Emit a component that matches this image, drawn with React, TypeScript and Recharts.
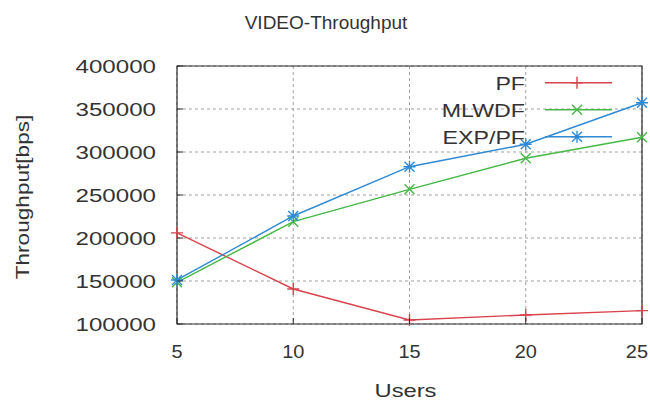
import React from 'react'
import {
  LineChart,
  Line,
  XAxis,
  YAxis,
  CartesianGrid,
  Legend,
  ReferenceArea,
} from 'recharts'

const users = [5, 10, 15, 20, 25]
const pf = [206000, 140700, 104700, 110500, 115500]
const mlwdf = [148500, 219000, 256600, 292700, 317100]
const expPf = [151200, 225600, 282900, 309000, 357300]
const xTicks = [5, 10, 15, 20, 25]
const yTicks = [100000, 150000, 200000, 250000, 300000, 350000, 400000]
const seriesNames = ['PF', 'MLWDF', 'EXP/PF']

const FONT = '"Liberation Sans", Arial, sans-serif'
const INK = '#2a2a2a'
const RED = '#d8434d'
const GREEN = '#45b845'
const BLUE = '#2f8ad6'

const data = users.map((u, i) => ({ users: u, pf: pf[i], mlwdf: mlwdf[i], expPf: expPf[i] }))

// gnuplot font looks stretched horizontally, so scale text on x
function SText({ x, y, anchor = 'middle', size = 19, sx = 1.22, rotate = 0, children }: any) {
  return (
    <g transform={`translate(${x},${y}) rotate(${rotate}) scale(${sx},1)`}>
      <text x={0} y={0} textAnchor={anchor} fontSize={size} fontFamily={FONT} fill="#333">
        {children}
      </text>
    </g>
  )
}

function markPath(kind: string, cx: number, cy: number) {
  const p = `M${cx - 6},${cy}H${cx + 6}M${cx},${cy - 6}V${cy + 6}`
  const x = `M${cx - 5},${cy - 5}L${cx + 5},${cy + 5}M${cx - 5},${cy + 5}L${cx + 5},${cy - 5}`
  if (kind === 'plus') return p
  if (kind === 'cross') return x
  return p + x
}

function Marker({ cx, cy, stroke, kind }: any) {
  if (cx == null || cy == null) return null
  return <path d={markPath(kind, cx, cy)} stroke={stroke} strokeWidth={1.4} fill="none" />
}

function YTick({ x, y, payload }: any) {
  return (
    <g>
      <line x1={x + 21} x2={x + 27} y1={y} y2={y} stroke={INK} strokeWidth={1} />
      <SText x={x} y={y + 7} anchor="end" sx={1.27}>{payload.value}</SText>
    </g>
  )
}

function XTick({ x, y, payload }: any) {
  // last label is pushed left so it stays inside the picture
  const last = payload.value === xTicks[xTicks.length - 1]
  return (
    <g>
      <line x1={x} x2={x} y1={y} y2={y - 6} stroke={INK} strokeWidth={1} />
      <SText x={last ? x + 6 : x} y={y + 34} anchor={last ? 'end' : 'middle'} sx={1.05}>
        {payload.value}
      </SText>
    </g>
  )
}

function RightTick({ x, y }: any) {
  return <line x1={x - 6} x2={x} y1={y} y2={y} stroke={INK} strokeWidth={1} />
}

function TopTick({ x, y }: any) {
  return <line x1={x} x2={x} y1={y} y2={y + 6} stroke={INK} strokeWidth={1} />
}

const kinds = ['plus', 'cross', 'star']
const colors = [RED, GREEN, BLUE]

function LegendBox() {
  return (
    <svg width={230} height={90} style={{ overflow: 'visible' }}>
      {seriesNames.map((name, i) => {
        const y = 14.7 + i * 27
        return (
          <g key={name}>
            <SText x={125} y={y + 7} anchor="end" size={19} sx={1.22}>{name}</SText>
            <line x1={145} x2={212} y1={y} y2={y} stroke={colors[i]} strokeWidth={1.4} />
            <path d={markPath(kinds[i], 177, y)} stroke={colors[i]} strokeWidth={1.4} fill="none" />
          </g>
        )
      })}
    </svg>
  )
}

export default function App() {
  return (
    <div style={{ position: 'absolute', left: 0, top: 0, width: 650, height: 400, background: '#fff' }}>
      <svg width={650} height={40} style={{ position: 'absolute', left: 0, top: 0 }}>
        <SText x={326} y={29} size={19} sx={1.0}>VIDEO-Throughput</SText>
      </svg>
      <LineChart width={650} height={400} data={data} margin={{ top: 66, right: 8, bottom: 0, left: 0 }}>
        <CartesianGrid stroke="#a0a0a0" strokeDasharray="3 3" />
        <XAxis
          dataKey="users"
          type="number"
          domain={[5, 25]}
          ticks={xTicks}
          height={76}
          axisLine={false}
          tickLine={false}
          tickSize={0}
          tickMargin={0}
          tick={<XTick />}
          label={{
            content: ({ viewBox }: any) => (
              <SText x={viewBox.x + viewBox.width / 2 - 4} y={viewBox.y + 73} sx={1.25}>Users</SText>
            ),
          }}
        />
        <XAxis
          xAxisId="t"
          dataKey="users"
          type="number"
          orientation="top"
          domain={[5, 25]}
          ticks={xTicks}
          height={0}
          axisLine={false}
          tickLine={false}
          tickSize={0}
          tickMargin={0}
          tick={<TopTick />}
        />
        <YAxis
          domain={[100000, 400000]}
          ticks={yTicks}
          width={177}
          axisLine={false}
          tickLine={false}
          tickSize={0}
          tickMargin={21}
          tick={<YTick />}
          label={{
            content: ({ viewBox }: any) => (
              <SText x={viewBox.x + 29} y={viewBox.y + viewBox.height / 2 + 2} rotate={-90} sx={1.19}>
                Throughput[bps]
              </SText>
            ),
          }}
        />
        <YAxis
          yAxisId="r"
          orientation="right"
          domain={[100000, 400000]}
          ticks={yTicks}
          width={0}
          axisLine={false}
          tickLine={false}
          tickSize={0}
          tickMargin={0}
          tick={<RightTick />}
        />
        <ReferenceArea x1={5} x2={25} y1={100000} y2={400000} fill="none" stroke={INK} strokeWidth={1.2} />
        <Line dataKey="pf" name="PF" stroke={RED} strokeWidth={1.4} dot={<Marker kind="plus" />} isAnimationActive={false} />
        <Line dataKey="mlwdf" name="MLWDF" stroke={GREEN} strokeWidth={1.4} dot={<Marker kind="cross" />} isAnimationActive={false} />
        <Line dataKey="expPf" name="EXP/PF" stroke={BLUE} strokeWidth={1.4} dot={<Marker kind="star" />} isAnimationActive={false} />
        <Legend
          layout="horizontal"
          verticalAlign="middle"
          align="center"
          content={<LegendBox />}
          wrapperStyle={{ position: 'absolute', left: 400, top: 68, width: 230, height: 90 }}
        />
      </LineChart>
    </div>
  )
}
